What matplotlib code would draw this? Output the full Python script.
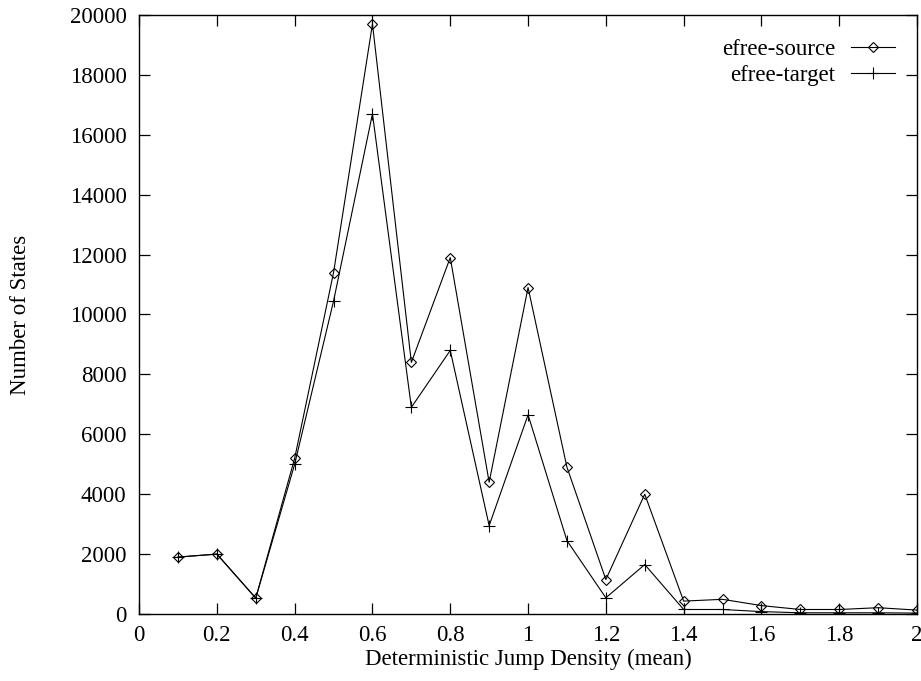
import matplotlib
matplotlib.use("Agg")
import matplotlib.pyplot as plt

# Data
# ====================================
density = [0.1, 0.2, 0.3, 0.4, 0.5, 0.6, 0.7, 0.8, 0.9, 1.0,
           1.1, 1.2, 1.3, 1.4, 1.5, 1.6, 1.7, 1.8, 1.9, 2.0]
efree_source = [1900, 2000, 530, 5200, 11400, 19700, 8400, 11900, 4400, 10900,
                4900, 1150, 4000, 430, 490, 280, 150, 150, 210, 130]
efree_target = [1900, 2000, 530, 5000, 10450, 16700, 6900, 8800, 2950, 6650,
                2450, 540, 1650, 150, 150, 80, 40, 40, 40, 30]

xticks = [0, 0.2, 0.4, 0.6, 0.8, 1.0, 1.2, 1.4, 1.6, 1.8, 2.0]
xticklabels = ["0", "0.2", "0.4", "0.6", "0.8", "1", "1.2", "1.4", "1.6", "1.8", "2"]
yticks = list(range(0, 20001, 2000))

plt.rcParams['font.family'] = ['Liberation Serif', 'DejaVu Serif']
plt.rcParams['font.size'] = 16.5

fig = plt.figure(figsize=(9.21, 6.81), dpi=100)
ax = fig.add_axes([0.151, 0.0984, 0.8447, 0.8796])

ax.plot(density, efree_source, color='black', linewidth=0.8,
        marker='D', markersize=5, markerfacecolor='none',
        markeredgewidth=0.8, label='efree-source')
ax.plot(density, efree_target, color='black', linewidth=0.8,
        marker='+', markersize=8, markeredgewidth=0.8,
        label='efree-target')

ax.set_xlim(0, 2)
ax.set_ylim(0, 20000)
ax.set_xticks(xticks)
ax.set_xticklabels(xticklabels)
ax.set_yticks(yticks)
ax.tick_params(direction='in', length=8, width=0.9, top=True, right=True,
               labelsize=16.5)
ax.tick_params(axis='x', pad=8)
ax.tick_params(axis='y', pad=9)
for s in ax.spines.values():
    s.set_linewidth(1.0)

ax.set_xlabel("Deterministic Jump Density (mean)", fontsize=16.5, labelpad=2)
ax.set_ylabel("Number of States", fontsize=16.5, labelpad=28)

ax.legend(loc='upper right', frameon=False, markerfirst=False,
          handlelength=1.9, fontsize=16.5, borderaxespad=0.0,
          bbox_to_anchor=(0.983, 0.975),
          labelspacing=0.2, handletextpad=0.7)

plt.savefig("out.png", dpi=100)
plt.close()
